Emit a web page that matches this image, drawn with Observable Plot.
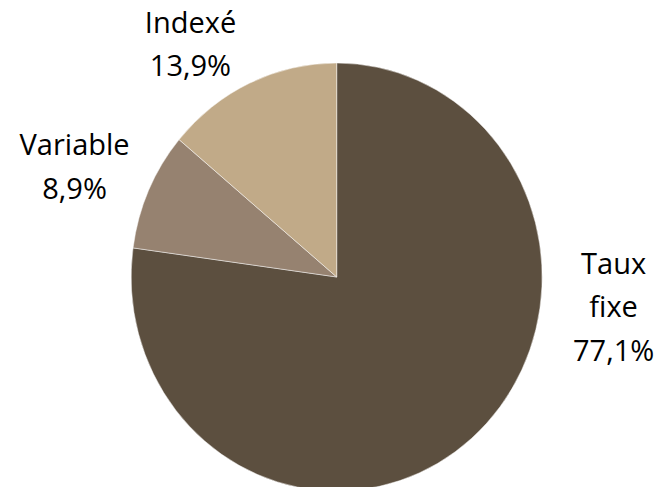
<!DOCTYPE html>
<html>
<head>
<meta charset="utf-8">
<script src="https://cdn.jsdelivr.net/npm/d3@7"></script>
<script src="https://cdn.jsdelivr.net/npm/@observablehq/plot@0.6"></script>
<style>
  html, body { margin: 0; padding: 0; background: #fff; }
  #chart { width: 657px; height: 487px; }
</style>
</head>
<body>
<div id="chart"></div>
<script>
// Data
const categories = ["Taux fixe", "Variable", "Indexé"];
const shares = [77.1, 8.9, 13.9];
const valueLabels = ["77,1%", "8,9%", "13,9%"];
const labelLines = [["Taux", "fixe"], ["Variable"], ["Indexé"]];

// Layout (not data): colors and label placement in pie units (radius = 1)
const colors = ["#5c4f3f", "#968270", "#c1aa88"];
const labelPos = [[1.345, -0.121], [-1.278, 0.535], [-0.714, 1.107]];

const W = 657, H = 487, cx = 336.7, cy = 277, Rx = 205.5, Ry = 214;

const slices = d3.pie().sort(null).value(d => d.share)(
  categories.map((c, i) => ({category: c, share: shares[i], color: colors[i]}))
);

const labels = categories.map((c, i) => ({
  x: labelPos[i][0],
  y: labelPos[i][1],
  text: [...labelLines[i], valueLabels[i]].join("\n")
}));

const pieMark = (index, scales) => {
  const x = scales.x, y = scales.y;
  const rx = x(1) - x(0), ry = y(0) - y(1);
  const arc = d3.arc().innerRadius(0).outerRadius(1);
  const g = d3.create("svg:g")
    .attr("transform", `translate(${x(0)},${y(0)}) scale(${rx},${ry})`);
  g.selectAll("path")
    .data(slices)
    .join("path")
    .attr("d", arc)
    .attr("fill", d => d.data.color)
    .attr("stroke", "#ffffff")
    .attr("stroke-opacity", 0.6)
    .attr("stroke-width", 0.8)
    .attr("vector-effect", "non-scaling-stroke")
    .attr("stroke-linejoin", "round");
  return g.node();
};

const chart = Plot.plot({
  width: W,
  height: H,
  margin: 0,
  style: {background: "#fff", fontFamily: "'Open Sans', sans-serif"},
  x: {domain: [-cx / Rx, (W - cx) / Rx], axis: null},
  y: {domain: [-(H - cy) / Ry, cy / Ry], axis: null},
  marks: [
    pieMark,
    Plot.text(labels, {
      x: "x", y: "y", text: "text",
      fontSize: 29, lineHeight: 1.5,
      fill: "#000", fontFamily: "'Open Sans', sans-serif"
    })
  ]
});
document.getElementById("chart").appendChild(chart);
</script>
</body>
</html>
